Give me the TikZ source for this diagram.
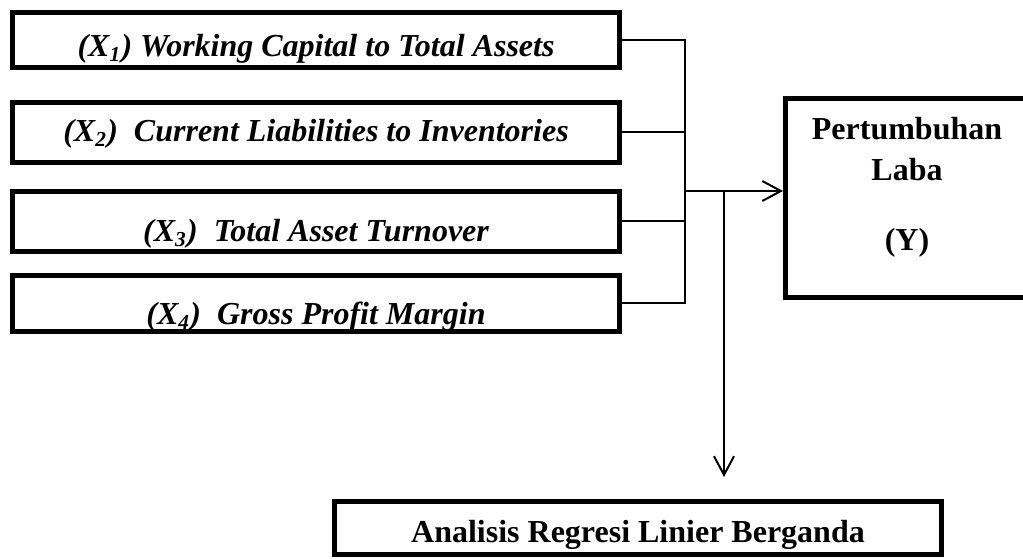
\documentclass[tikz,border=0pt]{standalone}
\usepackage{fontspec}
\setmainfont{Liberation Serif}
\usetikzlibrary{arrows.meta, positioning, calc}
\tikzset{
  every picture/.style={line width=0.75pt},
  box/.style={draw, line width=1.875pt, inner sep=0pt, minimum width=227.8pt},
  ybox/.style={draw, line width=1.875pt, inner sep=0pt, minimum width=91.1pt, minimum height=74.6pt},
  varlbl/.style={font=\fontsize{12}{14}\selectfont\bfseries\itshape, anchor=base, inner sep=0pt},
  reslbl/.style={font=\fontsize{12}{15.4}\selectfont\bfseries, align=center, inner sep=0pt},
  link/.style={draw, line width=0.75pt},
  arrow/.style={-{Straight Barb[length=7pt, width=7.5pt]}, draw, line width=0.75pt},
}

\begin{document}
\begin{tikzpicture}[x=0.375pt, y=-0.375pt]
  \useasboundingbox (0,0) rectangle (1023,559);
  \clip (0,0) rectangle (1023,559);
  % independent variables X1..X4
  \node[box, minimum height=20.6pt] (x1) at (316,40) {};
  \node[box, minimum height=22.5pt] (x2) at (316,132.5) {};
  \node[box, minimum height=22.5pt] (x3) at (316,221.5) {};
  \node[box, minimum height=21pt] (x4) at (316,303.5) {};
  \node[varlbl] (t1) at (316,57) {(X\textsubscript{1}) Working Capital to Total Assets};
  \node[varlbl] (t2) at (316,142) {(X\textsubscript{2})\ \ Current Liabilities to Inventories};
  \node[varlbl] (t3) at (316,242) {(X\textsubscript{3})\ \ Total Asset Turnover};
  \node[varlbl] (t4) at (316,325) {(X\textsubscript{4})\ \ Gross Prof{}it Margin};
  % dependent variable and method
  \node[ybox] (y) at (907,198) {};
  \node[reslbl] (ty) at (907,187) {Pertumbuhan\\Laba\\[10.85pt](Y)};
  \node[box, minimum width=227.6pt, minimum height=19.9pt] (reg) at (638,528) {};
  \node[varlbl, font=\fontsize{12}{14}\selectfont\bfseries] (treg) at (638,542) {Analisis Regresi Linier Berganda};
  % connectors
  \coordinate (bus) at (685,191);
  \coordinate (split) at (724,191);
  \coordinate (tip) at (724,477);
  \draw[link] (x1.east) -- (x1.east -| bus) -- (x4.east -| bus) -- (x4.east);
  \draw[link] (x2.east) -- (x2.east -| bus);
  \draw[link] (x3.east) -- (x3.east -| bus);
  \draw[arrow] (bus) -- (bus -| y.west);
  \draw[arrow] (split) -- (tip);
\end{tikzpicture}
\end{document}
